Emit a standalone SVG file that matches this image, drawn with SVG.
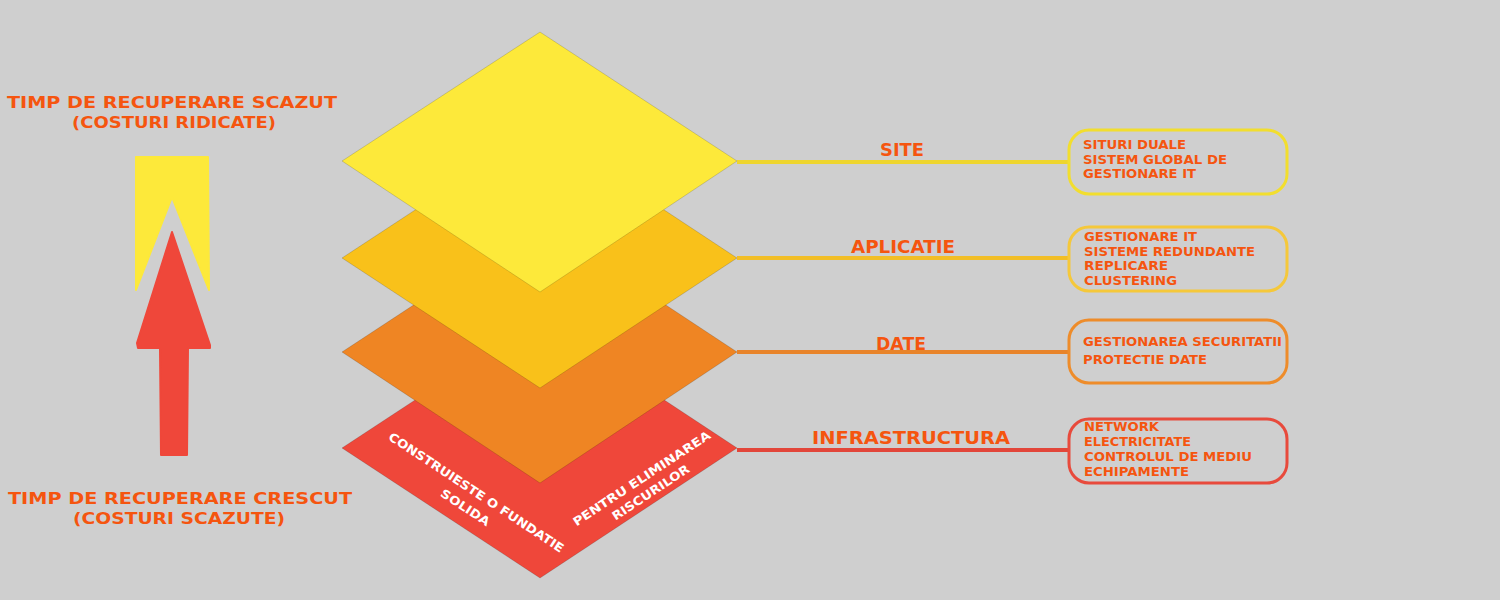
<svg xmlns="http://www.w3.org/2000/svg" width="1500" height="600" viewBox="0 0 1500 600">
<style>
.t{font-family:"DejaVu Sans","Liberation Sans",sans-serif;fill:#F5550F;font-weight:bold}
.side{font-size:15px}
.lbl{font-size:17px;text-anchor:middle}
.box{font-size:12px}
.w{font-family:"DejaVu Sans","Liberation Sans",sans-serif;font-size:12px;font-weight:bold;fill:#FFFFFF;text-anchor:middle}
.dia{stroke:#000;stroke-opacity:0.15;stroke-width:1}
.rb{fill:none;stroke-width:3}
.ln{stroke-width:4;fill:none}
</style>
<rect width="1500" height="600" fill="#CFCFCF"/>
<g id="legend">
<text class="t side" x="172" y="108" text-anchor="middle" textLength="330" lengthAdjust="spacingAndGlyphs">TIMP DE RECUPERARE SCAZUT</text>
<text class="t side" x="174" y="128" text-anchor="middle" textLength="204" lengthAdjust="spacingAndGlyphs">(COSTURI RIDICATE)</text>
<text class="t side" x="180" y="504" text-anchor="middle" textLength="344" lengthAdjust="spacingAndGlyphs">TIMP DE RECUPERARE CRESCUT</text>
<text class="t side" x="179" y="524" text-anchor="middle" textLength="212" lengthAdjust="spacingAndGlyphs">(COSTURI SCAZUTE)</text>
<path d="M136,157 L208,157 L209,290 L172,197 L136,290 Z" fill="#FDE93A" stroke="#FDE93A" stroke-width="2" stroke-linejoin="round"/>
<path d="M172,232 L210,345 L210,348 L188,348 L187,455 L161,455 L160,348 L138,348 L137,343 Z" fill="#EF473A" stroke="#EF473A" stroke-width="2" stroke-linejoin="round"/>
</g>
<g id="layer-infrastructura">
<polygon class="dia" points="540,318 737,448 540,578 342,448" fill="#EF473A"/>
<text class="w" transform="translate(474,496) rotate(33.4)" textLength="207" lengthAdjust="spacingAndGlyphs">CONSTRUIESTE O FUNDATIE</text>
<text class="w" transform="translate(463,511) rotate(33.4)" textLength="56" lengthAdjust="spacingAndGlyphs">SOLIDA</text>
<text class="w" transform="translate(644,482) rotate(-33.4)" textLength="162" lengthAdjust="spacingAndGlyphs">PENTRU ELIMINAREA</text>
<text class="w" transform="translate(653,496) rotate(-33.4)" textLength="90" lengthAdjust="spacingAndGlyphs">RISCURILOR</text>
</g>
<g id="layer-date">
<polygon class="dia" points="540,222 737,352 540,483 342,352" fill="#EF8523"/>
</g>
<g id="layer-aplicatie">
<polygon class="dia" points="540,128 737,258 540,388 342,258" fill="#F9C11A"/>
</g>
<g id="layer-site">
<polygon class="dia" points="540,32 737,161 540,292 342,161" fill="#FDE93A"/>
</g>
<g id="connectors">
<path class="ln" d="M737,162 L1069,162" stroke="#EED52E"/>
<path class="ln" d="M737,258 L1069,258" stroke="#F2BE26"/>
<path class="ln" d="M737,352 L1069,352" stroke="#E8842A"/>
<path class="ln" d="M737,450 L1069,450" stroke="#E2463A"/>
<text class="t lbl" x="902" y="156" textLength="44" lengthAdjust="spacingAndGlyphs">SITE</text>
<text class="t lbl" x="903" y="253" textLength="104" lengthAdjust="spacingAndGlyphs">APLICATIE</text>
<text class="t lbl" x="901" y="350" textLength="50" lengthAdjust="spacingAndGlyphs">DATE</text>
<text class="t lbl" x="911" y="444" textLength="198" lengthAdjust="spacingAndGlyphs">INFRASTRUCTURA</text>
</g>
<g id="box-site">
<rect class="rb" x="1069" y="130" width="218" height="64" rx="20" stroke="#F2DE2E"/>
<text class="t box" x="1083" y="149" textLength="103" lengthAdjust="spacingAndGlyphs">SITURI DUALE</text>
<text class="t box" x="1083" y="164" textLength="144" lengthAdjust="spacingAndGlyphs">SISTEM GLOBAL DE</text>
<text class="t box" x="1083" y="178" textLength="113" lengthAdjust="spacingAndGlyphs">GESTIONARE IT</text>
</g>
<g id="box-aplicatie">
<rect class="rb" x="1069" y="227" width="218" height="64" rx="20" stroke="#F5C83A"/>
<text class="t box" x="1084" y="241" textLength="113" lengthAdjust="spacingAndGlyphs">GESTIONARE IT</text>
<text class="t box" x="1084" y="256" textLength="171" lengthAdjust="spacingAndGlyphs">SISTEME REDUNDANTE</text>
<text class="t box" x="1084" y="270" textLength="84" lengthAdjust="spacingAndGlyphs">REPLICARE</text>
<text class="t box" x="1084" y="285" textLength="93" lengthAdjust="spacingAndGlyphs">CLUSTERING</text>
</g>
<g id="box-date">
<rect class="rb" x="1069" y="320" width="218" height="63" rx="20" stroke="#EE8C2A"/>
<text class="t box" x="1083" y="346" textLength="199" lengthAdjust="spacingAndGlyphs">GESTIONAREA SECURITATII</text>
<text class="t box" x="1083" y="364" textLength="124" lengthAdjust="spacingAndGlyphs">PROTECTIE DATE</text>
</g>
<g id="box-infrastructura">
<rect class="rb" x="1069" y="419" width="218" height="64" rx="20" stroke="#E84A3C"/>
<text class="t box" x="1084" y="431" textLength="75" lengthAdjust="spacingAndGlyphs">NETWORK</text>
<text class="t box" x="1084" y="446" textLength="107" lengthAdjust="spacingAndGlyphs">ELECTRICITATE</text>
<text class="t box" x="1084" y="461" textLength="168" lengthAdjust="spacingAndGlyphs">CONTROLUL DE MEDIU</text>
<text class="t box" x="1084" y="476" textLength="105" lengthAdjust="spacingAndGlyphs">ECHIPAMENTE</text>
</g>
</svg>
